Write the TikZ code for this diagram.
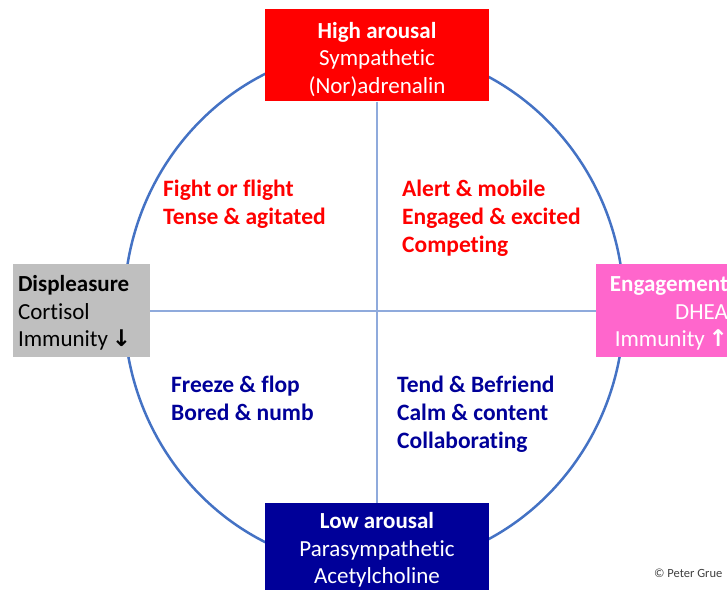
\documentclass[tikz,border=0pt]{standalone}
\usepackage{fontspec}
\setmainfont{Carlito}[Ligatures={NoCommon}]
\newfontfamily\arrowfont{DejaVu Sans}
\usepackage{tikz}

\definecolor{highred}{RGB}{255,0,0}
\definecolor{lownavy}{RGB}{0,0,153}
\definecolor{engpink}{RGB}{255,102,204}
\definecolor{dispgrey}{RGB}{191,191,191}
\definecolor{ringblue}{RGB}{68,114,196}
\definecolor{axisblue}{RGB}{143,170,220}

\begin{document}
\begin{tikzpicture}[x=1pt,y=1pt,
	arousalbox/.style={minimum width=224pt,minimum height=92pt,inner sep=0pt,align=center,text=white,font=\fontsize{23}{27.5}\selectfont},
	valencebox/.style={minimum height=93pt,text width=127pt,inner sep=5pt,font=\fontsize{23}{27.5}\selectfont},
	quadtext/.style={anchor=north west,inner sep=0pt,align=left,font=\fontsize{23.5}{28}\selectfont\bfseries}]
	\useasboundingbox (0,0) rectangle (727,589);
	\clip (0,0) rectangle (727,589);
	% ring
	\draw[ringblue,line width=2.5pt] (374,281) ellipse [x radius=250,y radius=260];
	% boxes
	\node[arousalbox,fill=highred] (high) at (377,533.5) {\rule{0pt}{24pt}\textbf{High arousal}\\Sympathetic\\(Nor)adrenalin};
	\node[arousalbox,fill=lownavy] (low) at (377,40) {\rule{0pt}{18pt}\textbf{Low arousal}\\Parasympathetic\\Acetylcholine};
	\node[valencebox,fill=dispgrey,align=left] (displeasure) at (81.5,278) {\rule{0pt}{20pt}\textbf{Displeasure}\\Cortisol\\Immunity\,{\arrowfont\bfseries↓}};
	\node[valencebox,fill=engpink,text=white,align=right] (engagement) at (664.5,278) {\rule{0pt}{20pt}\textbf{Engagement}\\DHEA\\Immunity\,{\arrowfont\bfseries↑}};
	% axes
	\draw[axisblue,line width=1.5pt] (high.south) -- (low.north);
	\draw[axisblue,line width=1.5pt] (displeasure.east) -- (engagement.west);
	% quadrants
	\node[quadtext,text=highred] (fight) at (163,409) {Fight or flight\\Tense \& agitated};
	\node[quadtext,text=highred] (alert) at (402,409) {Alert \& mobile\\Engaged \& excited\\Competing};
	\node[quadtext,text=lownavy] (freeze) at (171,213) {Freeze \& flop\\Bored \& numb};
	\node[quadtext,text=lownavy] (tend) at (397,213) {Tend \& Befriend\\Calm \& content\\Collaborating};
	\node[anchor=base west,inner sep=0pt,text=black!75,font=\fontsize{12.5}{14}\selectfont] (credit) at (654,12) {© Peter Grue};
\end{tikzpicture}
\end{document}
